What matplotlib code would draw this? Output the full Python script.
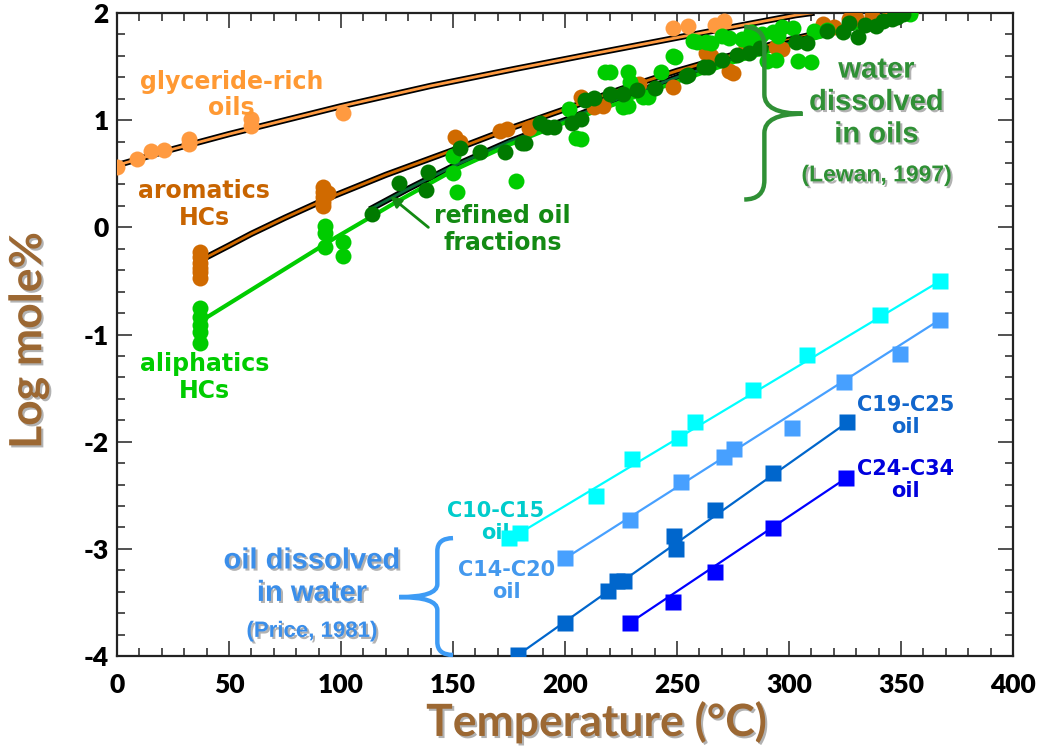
import numpy as np
import matplotlib
matplotlib.use('Agg')
import matplotlib.pyplot as plt
import matplotlib.patheffects as pe
from matplotlib.path import Path
from matplotlib.patches import PathPatch, FancyArrowPatch
from matplotlib.ticker import MultipleLocator

plt.rcParams['axes.unicode_minus'] = False

# water dissolved in oils (Lewan, 1997)
glyc_x = [0, 9, 15, 21, 32, 32, 60, 60, 101, 248, 255, 267, 271]
glyc_y = [0.56, 0.64, 0.71, 0.72, 0.78, 0.82, 0.95, 1.01, 1.07, 1.86, 1.88, 1.89, 1.93]
glyc_fit_x = [0, 25, 50, 75, 100, 140, 178, 210, 250, 275, 303, 310]
glyc_fit_y = [0.58, 0.73, 0.87, 1.00, 1.13, 1.32, 1.48, 1.61, 1.77, 1.87, 1.98, 2.0]

arom_x = [37, 37, 37, 37, 37, 37, 92, 92, 92, 92, 92, 94, 151, 153, 171, 174, 184, 207, 213,
          217, 233, 248, 263, 265, 273, 275, 281, 284, 294, 297, 315, 320, 327, 330, 337, 345, 354]
arom_y = [-0.23, -0.28, -0.33, -0.38, -0.42, -0.47, 0.38, 0.33, 0.28, 0.24, 0.20, 0.32, 0.84,
          0.80, 0.90, 0.92, 0.93, 1.22, 1.12, 1.13, 1.34, 1.31, 1.63, 1.60, 1.46, 1.44, 1.69,
          1.72, 1.68, 1.66, 1.90, 1.87, 1.94, 1.95, 1.97, 2.0, 2.0]
arom_fit_x = [37, 50, 60, 75, 94, 120, 150, 175, 201, 225, 250, 275, 300, 325, 355]
arom_fit_y = [-0.31, -0.17, -0.06, 0.09, 0.27, 0.49, 0.72, 0.92, 1.11, 1.29, 1.46, 1.61, 1.75,
              1.87, 2.0]

aliph_x = [37, 37, 37, 37, 37, 93, 93, 93, 101, 101, 150, 150, 152, 178, 202, 205, 207, 218,
           220, 226, 228, 228, 229, 235, 237, 243, 248, 249, 257, 259, 263, 265, 270, 273, 279,
           282, 283, 287, 288, 290, 293, 294, 295, 297, 302, 304, 310, 311, 317, 354]
aliph_y = [-0.75, -0.84, -0.91, -0.98, -1.08, 0.01, -0.05, -0.18, -0.14, -0.27, 0.67, 0.51,
           0.33, 0.43, 1.10, 0.83, 0.82, 1.45, 1.45, 1.12, 1.45, 1.13, 1.36, 1.22, 1.22, 1.45,
           1.60, 1.59, 1.74, 1.73, 1.73, 1.72, 1.79, 1.77, 1.76, 1.73, 1.82, 1.79, 1.80, 1.55,
           1.82, 1.56, 1.79, 1.87, 1.86, 1.55, 1.54, 1.83, 1.84, 1.99]
aliph_fit_x = [37, 98, 125, 150, 175, 199, 225, 250, 275, 300, 325, 355]
aliph_fit_y = [-0.88, -0.09, 0.24, 0.53, 0.77, 0.97, 1.17, 1.36, 1.54, 1.70, 1.84, 1.97]

refin_x = [114, 126, 138, 139, 153, 162, 173, 181, 182, 189, 192, 195, 203, 207, 209, 213, 220,
           226, 232, 240, 254, 255, 262, 264, 270, 277, 282, 287, 303, 308, 317, 324, 327, 331,
           334, 339, 342, 346, 348, 351]
refin_y = [0.12, 0.41, 0.35, 0.52, 0.74, 0.70, 0.70, 0.79, 0.79, 0.97, 0.94, 0.94, 0.97, 1.01,
           1.19, 1.21, 1.24, 1.24, 1.28, 1.30, 1.41, 1.42, 1.50, 1.50, 1.56, 1.61, 1.63, 1.67,
           1.73, 1.72, 1.83, 1.82, 1.91, 1.78, 1.89, 1.88, 1.93, 1.94, 1.96, 1.99]
refin_fit_x = [114, 130, 150, 175, 200, 225, 250, 275, 300, 325, 355]
refin_fit_y = [0.18, 0.36, 0.57, 0.80, 1.0, 1.21, 1.40, 1.57, 1.72, 1.85, 1.98]

# oil dissolved in water (Price, 1981)
c10_x = [175, 180, 214, 230, 251, 258, 284, 308, 340.5, 367.5]
c10_y = [-2.90, -2.85, -2.51, -2.16, -1.97, -1.82, -1.52, -1.19, -0.82, -0.50]
c10_fit_x = [180, 367.5]
c10_fit_y = [-2.85, -0.50]
c14_x = [200, 229, 252, 271, 275.5, 301.5, 324.5, 349.5, 367.5]
c14_y = [-3.09, -2.73, -2.38, -2.14, -2.07, -1.87, -1.44, -1.18, -0.86]
c14_fit_x = [200, 367.5]
c14_fit_y = [-3.09, -0.86]
c19_x = [179, 200, 219, 223, 226.5, 248.5, 249.5, 267, 293, 326]
c19_y = [-3.99, -3.69, -3.39, -3.30, -3.30, -2.88, -3.00, -2.64, -2.29, -1.82]
c19_fit_x = [179, 326]
c19_fit_y = [-3.99, -1.82]
c24_x = [229, 248, 267, 293, 325.5]
c24_y = [-3.69, -3.50, -3.22, -2.81, -2.34]
c24_fit_x = [229, 325.5]
c24_fit_y = [-3.69, -2.34]

x_ticks = [0, 50, 100, 150, 200, 250, 300, 350, 400]
y_ticks = [-4, -3, -2, -1, 0, 1, 2]

c_glyc = '#FF9A40'
c_arom = '#D06A00'
c_aliph = '#00CC00'
c_refin = '#007A00'
c_brown = '#9C6833'
c_wgreen = '#2F9035'
c_oblue = '#3A8EEA'

fig = plt.figure(figsize=(10.56, 7.53), dpi=100)
ax = fig.add_axes([0.1108, 0.1288, 0.8485, 0.8539])

def outlined(color, w_in, w_out):
    return [pe.Stroke(linewidth=w_out, foreground='black'), pe.Stroke(linewidth=w_in, foreground=color)]

# fit lines
ax.plot(glyc_fit_x, glyc_fit_y, color=c_glyc, lw=2, path_effects=outlined(c_glyc, 2, 4.5), zorder=2)
ax.plot(arom_fit_x, arom_fit_y, color=c_arom, lw=2, path_effects=outlined(c_arom, 2, 4.5), zorder=2)
ax.plot(refin_fit_x, refin_fit_y, color='#0B6B3A', lw=2, path_effects=outlined('#0B6B3A', 2, 4.5), zorder=2)
ax.plot(aliph_fit_x, aliph_fit_y, color=c_aliph, lw=3, zorder=2)

# data points
ms = 11.5
ax.plot(glyc_x, glyc_y, 'o', color=c_glyc, ms=ms, mec='none', zorder=3)
ax.plot(arom_x, arom_y, 'o', color=c_arom, ms=ms, mec='none', zorder=3)
ax.plot(aliph_x, aliph_y, 'o', color=c_aliph, ms=ms, mec='none', zorder=3)
ax.plot(refin_x, refin_y, 'o', color=c_refin, ms=ms, mec='none', zorder=4)

sq = [(c10_x, c10_y, c10_fit_x, c10_fit_y, '#00FFFF'),
      (c14_x, c14_y, c14_fit_x, c14_fit_y, '#47A0FF'),
      (c19_x, c19_y, c19_fit_x, c19_fit_y, '#0066CC'),
      (c24_x, c24_y, c24_fit_x, c24_fit_y, '#0000FF')]
for xs, ys, fx, fy, col in sq:
    ax.plot(fx, fy, color=col, lw=1.6, zorder=3)
    ax.plot(xs, ys, 's', color=col, ms=11.5, mec='none', zorder=4)

ax.set_xlim(0, 400)
ax.set_ylim(-4, 2)
ax.set_xticks(x_ticks)
ax.set_yticks(y_ticks)
ax.xaxis.set_minor_locator(MultipleLocator(10))
ax.yaxis.set_minor_locator(MultipleLocator(0.2))
ax.tick_params(which='both', direction='in', top=True, right=True, width=1.2, color='#333333')
ax.tick_params(which='major', length=11)
ax.tick_params(which='minor', length=6)
ax.tick_params(axis='x', which='major', pad=12)
ax.tick_params(axis='y', which='major', pad=6)
for lab in ax.get_xticklabels() + ax.get_yticklabels():
    lab.set_fontfamily('Lato')
    lab.set_fontweight('heavy')
    lab.set_fontsize(19)
for s in ax.spines.values():
    s.set_linewidth(1.6)
    s.set_color('#222222')

shadow = [pe.SimplePatchShadow(offset=(1.5, -1.5), shadow_rgbFace='#555555', alpha=0.45), pe.Normal()]
fig.text(0.565, 0.041, 'Temperature (°C)', ha='center', va='center', fontsize=32,
         fontfamily='Lato', fontweight='bold', color=c_brown, path_effects=shadow)
fig.text(0.027, 0.548, 'Log mole%', ha='center', va='center', rotation=90, fontsize=32,
         fontfamily='Lato', fontweight='bold', color=c_brown, path_effects=shadow)

lab = dict(ha='center', va='center', fontfamily='DejaVu Sans', fontweight='bold', linespacing=1.15)
ax.text(51, 1.235, 'glyceride-rich\noils', color='#FF9933', fontsize=17, **lab)
ax.text(39, 0.21, 'aromatics\nHCs', color='#C86400', fontsize=17, **lab)
ax.text(39, -1.40, 'aliphatics\nHCs', color='#00CC00', fontsize=17, **lab)
ax.text(172, -0.02, 'refined oil\nfractions', color='#138A13', fontsize=17, **lab)
ax.add_patch(FancyArrowPatch((139, 0.0), (122, 0.29), arrowstyle='-|>', color='#138A13',
                             lw=2, mutation_scale=16, shrinkA=0, shrinkB=0, zorder=6))

ax.text(169, -2.75, 'C10-C15\noil', color='#00CCCC', fontsize=15, **lab)
ax.text(174, -3.30, 'C14-C20\noil', color='#4499EE', fontsize=15, **lab)
ax.text(352, -1.76, 'C19-C25\noil', color='#1166CC', fontsize=15, **lab)
ax.text(352, -2.36, 'C24-C34\noil', color='#0000DD', fontsize=15, **lab)

big = dict(ha='center', va='center', fontfamily='Liberation Sans', fontweight='bold',
           linespacing=1.2, path_effects=shadow)
ax.text(339, 1.17, 'water\ndissolved\nin oils', color=c_wgreen, fontsize=21, **big)
ax.text(339, 0.49, '(Lewan, 1997)', color=c_wgreen, fontsize=16.5, **big)
ax.text(87, -3.26, 'oil dissolved\nin water', color=c_oblue, fontsize=21, **big)
ax.text(87, -3.77, '(Price, 1981)', color=c_oblue, fontsize=16, **big)

def brace(x_end, x_bar, x_tip, y_top, y_bot, y_mid, r, color):
    verts = [(x_end, y_top), (x_bar, y_top), (x_bar, y_top - r),
             (x_bar, y_mid + r), (x_bar, y_mid), (x_tip, y_mid),
             (x_bar, y_mid), (x_bar, y_mid - r),
             (x_bar, y_bot + r), (x_bar, y_bot), (x_end, y_bot)]
    codes = [Path.MOVETO, Path.CURVE3, Path.CURVE3,
             Path.LINETO, Path.CURVE3, Path.CURVE3,
             Path.CURVE3, Path.CURVE3,
             Path.LINETO, Path.CURVE3, Path.CURVE3]
    ax.add_patch(PathPatch(Path(verts, codes), fill=False, edgecolor=color, lw=3.2,
                           capstyle='butt', zorder=5, clip_on=False))

brace(280, 289, 306, 1.87, 0.26, 1.06, 0.18, c_wgreen)
brace(150, 143, 126, -2.90, -3.99, -3.45, 0.12, '#3D9BF5')

fig.savefig('out.png', dpi=100, facecolor='white')
